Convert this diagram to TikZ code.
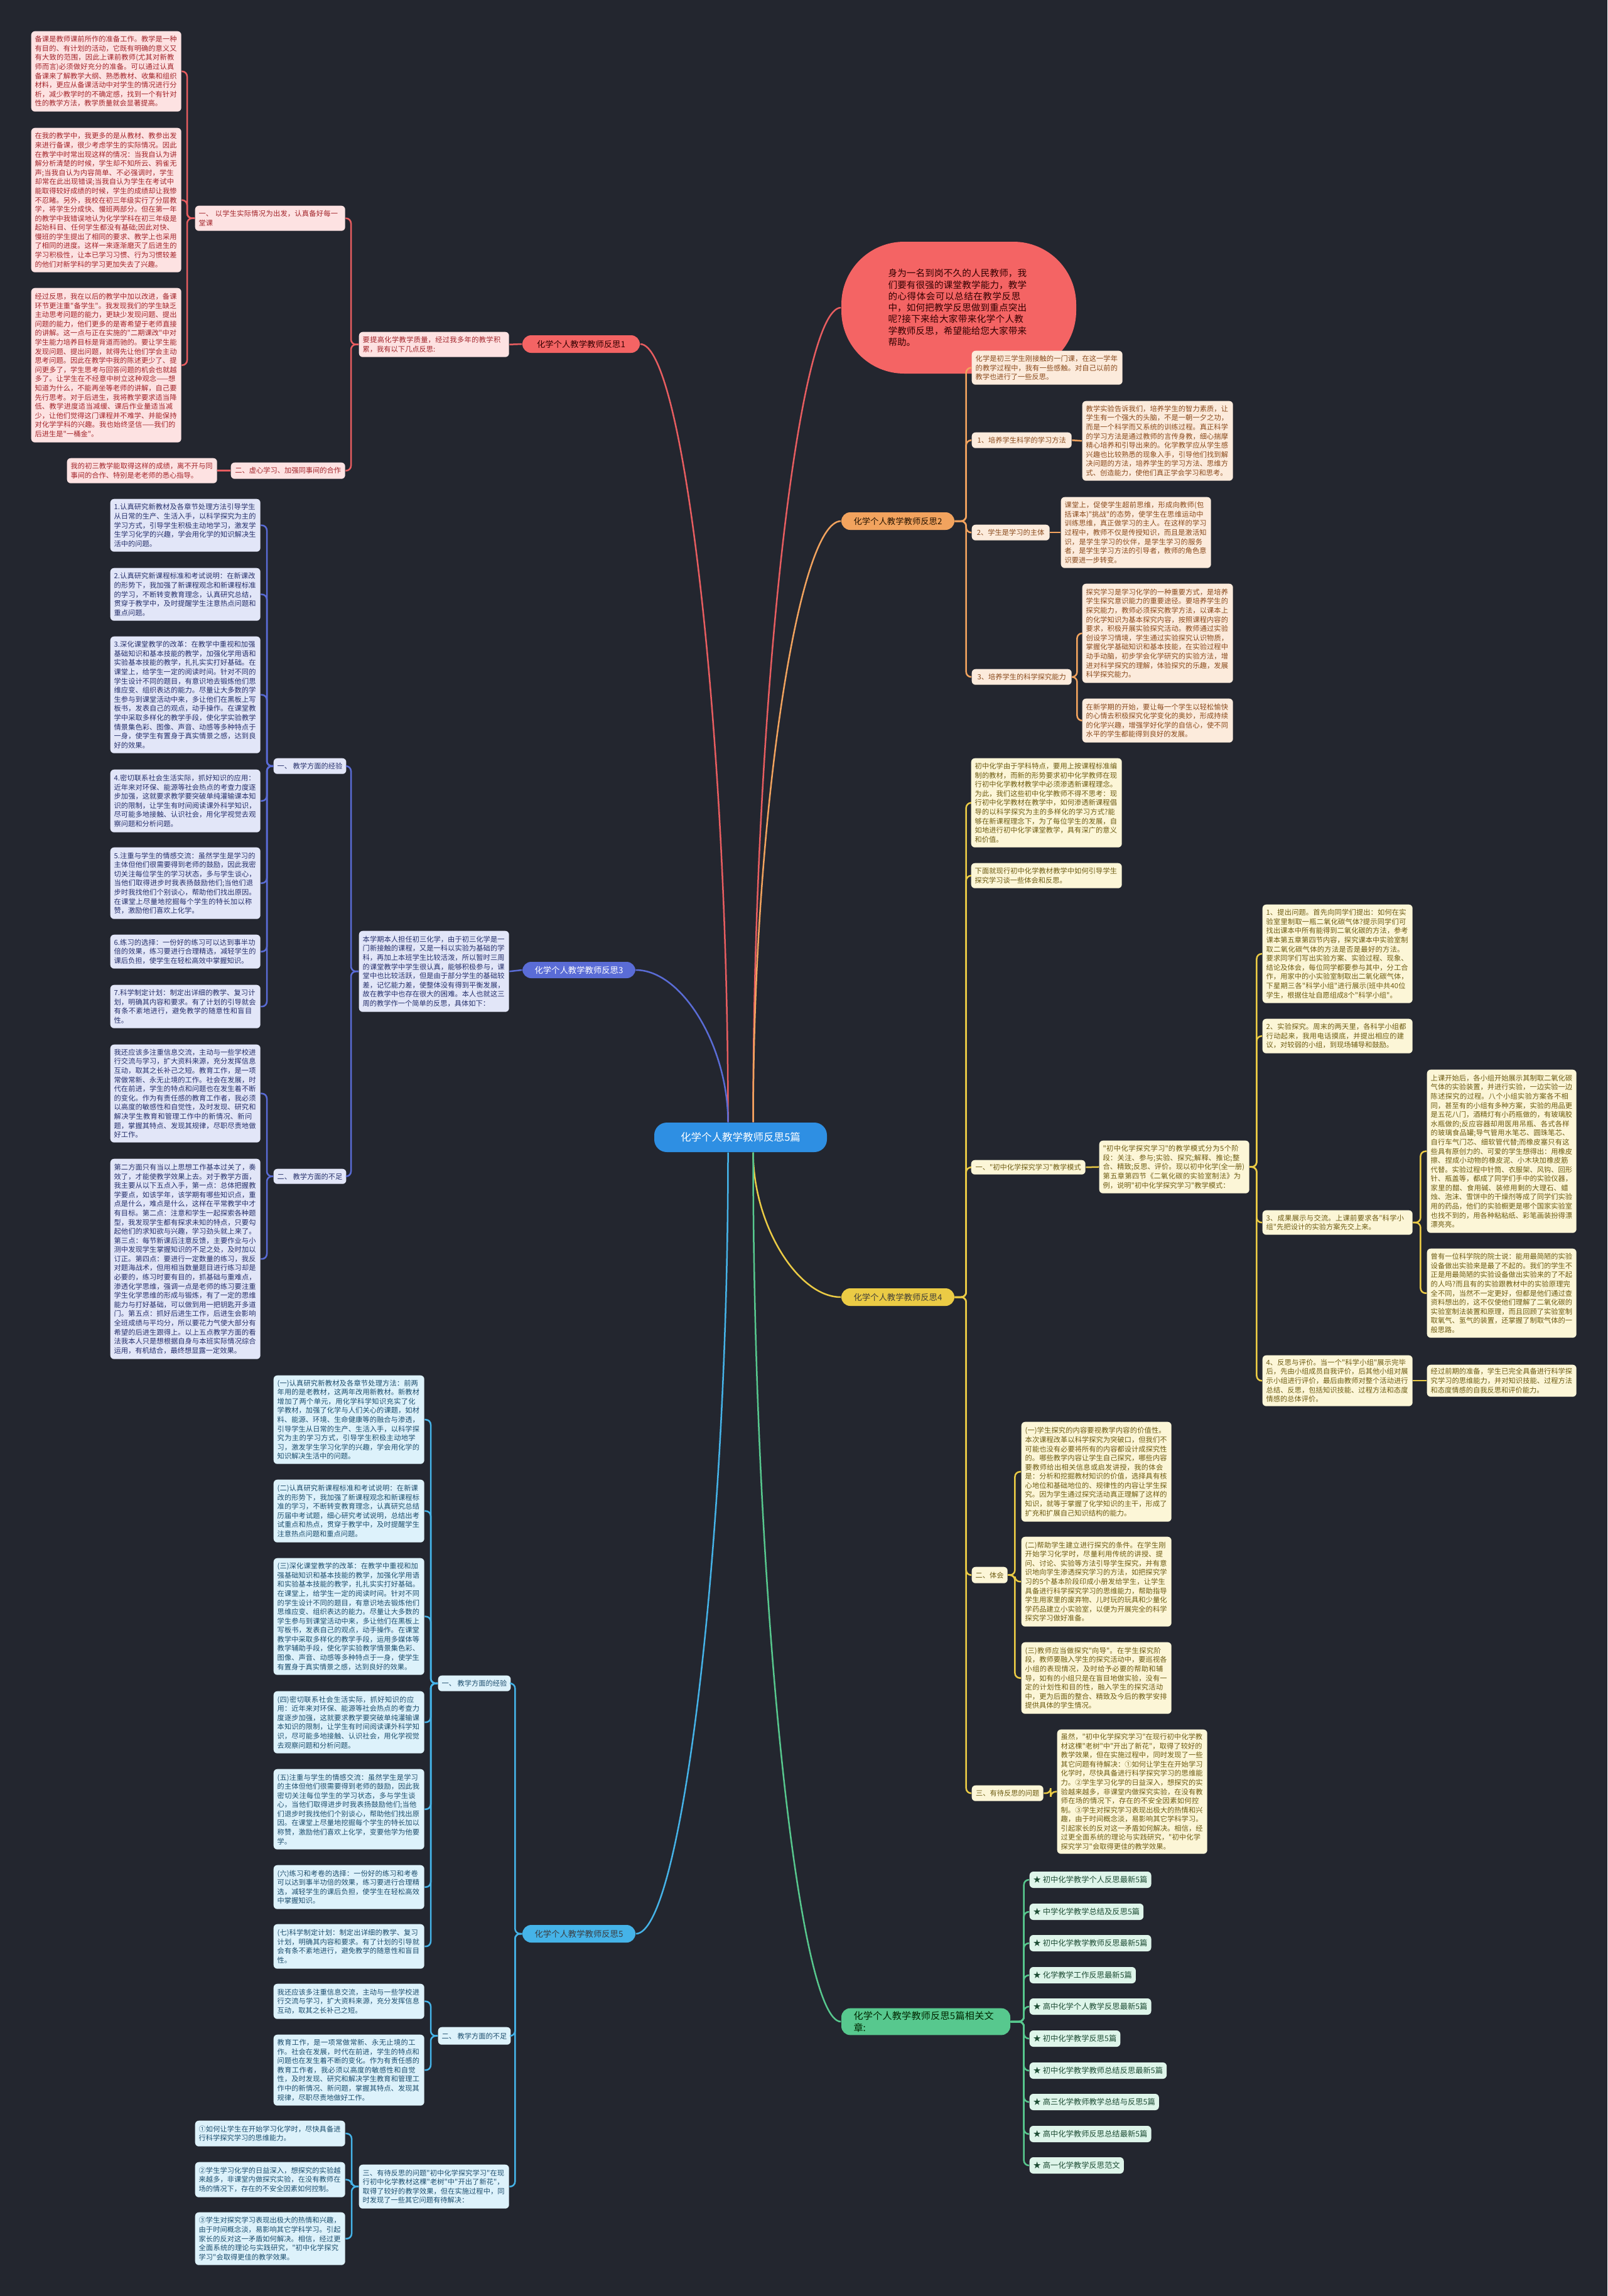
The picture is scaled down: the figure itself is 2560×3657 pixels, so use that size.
\documentclass[tikz,border=0pt]{standalone}
\usepackage{fontspec}
\newfontfamily\cjk{Noto Sans CJK SC}
\XeTeXlinebreaklocale "zh"
\XeTeXlinebreakskip=0pt plus 0.3pt

\definecolor{bgc}{HTML}{23262F}
\definecolor{rootc}{HTML}{2E8FE3}
\definecolor{redc}{HTML}{E85D60}
\definecolor{redfill}{HTML}{F46464}
\definecolor{redtext}{HTML}{A3242A}
\definecolor{pinkfill}{HTML}{FDE2E2}
\definecolor{orangec}{HTML}{F2A35E}
\definecolor{peachfill}{HTML}{FCEBDC}
\definecolor{browntext}{HTML}{8A4A1C}
\definecolor{bluec}{HTML}{5A6CD6}
\definecolor{lavfill}{HTML}{E2E6F8}
\definecolor{navytext}{HTML}{26306C}
\definecolor{yellowc}{HTML}{EBCB45}
\definecolor{creamfill}{HTML}{FCF6D7}
\definecolor{olivetext}{HTML}{6E5C12}
\definecolor{cyanc}{HTML}{45B3E8}
\definecolor{cyanfill}{HTML}{DDF2FB}
\definecolor{tealtext}{HTML}{1D4E6E}
\definecolor{greenc}{HTML}{57C88E}
\definecolor{mintfill}{HTML}{DEF5EA}
\definecolor{greentext}{HTML}{1E4D35}

% text box: name, style, x1, y1, x2, y2 (pixels), text
\newcommand{\tnode}[7]{%
  \pgfmathsetlengthmacro{\tnodew}{(#5-#3)*0.1mm-1.2mm}%
  \pgfmathsetlengthmacro{\tnodeh}{(#6-#4)*0.1mm}%
  \node[#2, anchor=north west, text width=\tnodew, minimum height=\tnodeh] (#1) at (#3,#4) {#7};}
% one-line label box
\newcommand{\lnode}[7]{%
  \pgfmathsetlengthmacro{\tnodew}{(#5-#3)*0.1mm}%
  \pgfmathsetlengthmacro{\tnodeh}{(#6-#4)*0.1mm}%
  \node[#2, anchor=north west, minimum width=\tnodew, minimum height=\tnodeh] (#1) at (#3,#4) {#7};}

\begin{document}
\begin{tikzpicture}[
  x=0.1mm, y=-0.1mm,
  every node/.style={font=\cjk},
  leaf/.style={rectangle, rounded corners=0.6mm, inner xsep=0.6mm, inner ysep=0.4mm,
               align=left, font=\cjk\fontsize{3.2}{4.15}\selectfont},
  pinkleaf/.style={leaf, fill=pinkfill, text=redtext},
  peachleaf/.style={leaf, fill=peachfill, text=browntext},
  lavleaf/.style={leaf, fill=lavfill, text=navytext},
  creamleaf/.style={leaf, fill=creamfill, text=olivetext},
  cyanleaf/.style={leaf, fill=cyanfill, text=tealtext},
  mintleaf/.style={leaf, fill=mintfill, text=greentext, font=\cjk\fontsize{3.5}{4.2}\selectfont},
  branch/.style={rectangle, rounded corners=1.4mm, inner sep=0.5mm, align=center,
                 font=\cjk\fontsize{3.8}{4.6}\selectfont},
  conn/.style={line width=0.25mm, rounded corners=0.8mm},
  redline/.style={conn, draw=redc},
  orangeline/.style={conn, draw=orangec},
  blueline/.style={conn, draw=bluec},
  yellowline/.style={conn, draw=yellowc},
  cyanline/.style={conn, draw=cyanc},
  greenline/.style={conn, draw=greenc}
]
\fill[bgc] (0,0) rectangle (2560,3657);
\useasboundingbox (0,0) rectangle (2560,3657);

\node[rectangle, rounded corners=2mm, fill=rootc, text=white, minimum width=27.5mm,
      minimum height=4.7mm, font=\cjk\fontsize{4.7}{5.5}\selectfont] (root) at (1179.5,1811.5)
      {化学个人教学教师反思5篇};

% branch labels
\node[branch, fill=redfill, text=black!80!red, minimum width=18.7mm, minimum height=2.8mm] (b1) at (925.5,548) {化学个人教学教师反思1};
\node[rectangle, rounded corners=10mm, fill=redfill, text=black!80!red, minimum width=37.4mm,
      minimum height=21mm, text width=22.5mm, align=left,
      font=\cjk\fontsize{4.15}{5.2}\selectfont] (intro) at (1527,490)
      {身为一名到岗不久的人民教师，我们要有很强的课堂教学能力，教学的心得体会可以总结在教学反思中，如何把教学反思做到重点突出呢?接下来给大家带来化学个人教学教师反思，希望能给您大家带来帮助。};
\node[branch, fill=orangec, text=black!85!orange, minimum width=18mm, minimum height=2.8mm] (b2) at (1430,830) {化学个人教学教师反思2};
\node[branch, fill=bluec, text=white, minimum width=18mm, minimum height=2.6mm] (b3) at (922,1545) {化学个人教学教师反思3};
\node[branch, fill=yellowc, text=black!85!yellow, minimum width=18mm, minimum height=2.8mm] (b4) at (1430,2066) {化学个人教学教师反思4};
\node[branch, fill=cyanc, text=black!85!cyan, minimum width=18mm, minimum height=2.8mm] (b5) at (922,3080) {化学个人教学教师反思5};
\node[branch, fill=greenc, text=black!85!green, minimum width=26.9mm, minimum height=4.2mm,
      text width=23mm, align=left, font=\cjk\fontsize{4.3}{5.3}\selectfont] (b6) at (1474.5,3220)
      {化学个人教学教师反思5篇相关文章:};

\draw[redline] ([xshift=-2mm]root.north) .. controls (1159.5,1168) and (1089,548) .. (b1.east);
\draw[redline] ([xshift=2mm]root.north) .. controls (1199.5,1139) and (1270,490) .. (intro.west);
\draw[orangeline] ([xshift=2mm]root.north) .. controls (1199.5,1309) and (1270,830) .. (b2.west);
\draw[blueline] ([xshift=-2mm]root.north) .. controls (1159.5,1666) and (1086,1545) .. (b3.east);
\draw[yellowline] ([xshift=2mm]root.south) .. controls (1199.5,1950) and (1270,2066) .. (b4.west);
\draw[cyanline] ([xshift=-2mm]root.south) .. controls (1159.5,2457) and (1086,3080) .. (b5.east);
\draw[greenline] ([xshift=2mm]root.south) .. controls (1199.5,2527) and (1270,3220) .. (b6.west);

% reflection 1
\tnode{ra}{pinkleaf}{49}{49}{288}{177}{备课是教师课前所作的准备工作。教学是一种有目的、有计划的活动，它既有明确的意义又有大致的范围，因此上课前教师(尤其对新教师而言)必须做好充分的准备。可以通过认真备课来了解教学大纲、熟悉教材、收集和组织材料，更应从备课活动中对学生的情况进行分析，减少教学时的不确定感，找到一个有针对性的教学方法，教学质量就会显著提高。}
\tnode{rb}{pinkleaf}{49}{203}{288}{433}{在我的教学中，我更多的是从教材、教参出发来进行备课，很少考虑学生的实际情况。因此在教学中时常出现这样的情况：当我自认为讲解分析清楚的时候，学生却不知所云、鸦雀无声;当我自认为内容简单、不必强调时，学生却常在此出现错误;当我自认为学生在考试中能取得较好成绩的时候，学生的成绩却让我惨不忍睹。另外，我校在初三年级实行了分层教学，将学生分成快、慢班两部分。但在第一年的教学中我错误地认为化学学科在初三年级是起始科目、任何学生都没有基础;因此对快、慢班的学生提出了相同的要求、教学上也采用了相同的进度。这样一来逐渐磨灭了后进生的学习积极性，让本已学习习惯、行为习惯较差的他们对新学科的学习更加失去了兴趣。}
\tnode{rc}{pinkleaf}{49}{458}{288}{704}{经过反思，我在以后的教学中加以改进，备课环节更注重"备学生"。我发现我们的学生缺乏主动思考问题的能力，更缺少发现问题、提出问题的能力，他们更多的是寄希望于老师直接的讲解。这一点与正在实施的"二期课改"中对学生能力培养目标是背道而驰的。要让学生能发现问题、提出问题，就得先让他们学会主动思考问题。因此在教学中我的陈述更少了、提问更多了，学生思考与回答问题的机会也就越多了。让学生在不经意中树立这种观念——想知道为什么，不能再坐等老师的讲解，自己要先行思考。对于后进生，我将教学要求适当降低、教学进度适当减缓、课后作业量适当减少，让他们觉得这门课程并不难学、并能保持对化学学科的兴趣。我也始终坚信——我们的后进生是"一桶金"。}
\tnode{rl1}{pinkleaf}{310}{327}{549}{367}{一、 以学生实际情况为出发，认真备好每一堂课}
\lnode{rl2}{pinkleaf}{367}{736}{549}{762}{二、虚心学习、加强同事间的合作}
\tnode{rl2c}{pinkleaf}{106}{729}{345}{769}{我的初三教学能取得这样的成绩，离不开与同事间的合作、特别是老老师的悉心指导。}
\tnode{rmid}{pinkleaf}{571}{528}{810}{568}{要提高化学教学质量，经过我多年的教学积累，我有以下几点反思:}

\draw[redline] (b1.west) -- (rmid.east);
\draw[redline] (rmid.west) -- ++(-12,0) |- (rl1.east);
\draw[redline] (rmid.west) -- ++(-12,0) |- (rl2.east);
\draw[redline] (rl1.west) -- ++(-12,0) |- (ra.east);
\draw[redline] (rl1.west) -- ++(-12,0) |- (rb.east);
\draw[redline] (rl1.west) -- ++(-12,0) |- (rc.east);
\draw[redline] (rl2.west) -- (rl2c.east);

% reflection 2
\tnode{ob}{peachleaf}{1547}{558}{1787}{612}{化学是初三学生刚接触的一门课，在这一学年的教学过程中，我有一些感触。对自己以前的教学也进行了一些反思。}
\lnode{os1}{peachleaf}{1547}{688}{1706}{713}{1、培养学生科学的学习方法}
\tnode{os1c}{peachleaf}{1723}{638}{1963}{765}{教学实验告诉我们，培养学生的智力素质，让学生有一个强大的头脑，不是一朝一夕之功，而是一个科学而又系统的训练过程。真正科学的学习方法是通过教师的言传身教，细心揣摩精心培养和引导出来的。化学教学应从学生感兴趣也比较熟悉的现象入手，引导他们找到解决问题的方法，培养学生的学习方法、思维方式、创造能力，使他们真正学会学习和思考。}
\lnode{os2}{peachleaf}{1547}{835}{1671}{860}{2、学生是学习的主体}
\tnode{os2c}{peachleaf}{1689}{791}{1928}{904}{课堂上，促使学生超前思维，形成向教师(包括课本)"挑战"的态势，使学生在思维运动中训练思维，真正做学习的主人。在这样的学习过程中，教师不仅是传授知识，而且是激活知识，是学生学习的伙伴，是学生学习的服务者，是学生学习方法的引导者，教师的角色意识要进一步转变。}
\lnode{os3}{peachleaf}{1547}{1065}{1706}{1090}{3、培养学生的科学探究能力}
\tnode{os3a}{peachleaf}{1723}{929}{1963}{1087}{探究学习是学习化学的一种重要方式，是培养学生探究意识能力的重要途径。要培养学生的探究能力，教师必须探究教学方法，以课本上的化学知识为基本探究内容，按照课程内容的要求，积极开展实验探究活动。教师通过实验创设学习情境，学生通过实验探究认识物质，掌握化学基础知识和基本技能，在实验过程中动手动脑，初步学会化学研究的实验方法，增进对科学探究的理解，体验探究的乐趣，发展科学探究能力。}
\tnode{os3b}{peachleaf}{1723}{1112}{1963}{1182}{在新学期的开始，要让每一个学生以轻松愉快的心情去积极探究化学变化的奥妙，形成持续的化学兴趣，增强学好化学的自信心，使不同水平的学生都能得到良好的发展。}

\draw[orangeline] (b2.east) -- ++(18,0) |- (ob.west);
\draw[orangeline] (b2.east) -- ++(18,0) |- (os1.west);
\draw[orangeline] (b2.east) -- ++(18,0) |- (os2.west);
\draw[orangeline] (b2.east) -- ++(18,0) |- (os3.west);
\draw[orangeline] (os1.east) -- (os1c.west);
\draw[orangeline] (os2.east) -- (os2c.west);
\draw[orangeline] (os3.east) -- ++(8,0) |- (os3a.west);
\draw[orangeline] (os3.east) -- ++(8,0) |- (os3b.west);

% reflection 3
\tnode{pb1}{lavleaf}{175}{794}{414}{878}{1.认真研究新教材及各章节处理方法引导学生从日常的生产、生活入手，以科学探究为主的学习方式，引导学生积极主动地学习，激发学生学习化学的兴趣，学会用化学的知识解决生活中的问题。}
\tnode{pb2}{lavleaf}{175}{904}{414}{988}{2.认真研究新课程标准和考试说明：在新课改的形势下，我加强了新课程观念和新课程标准的学习，不断转变教育理念，认真研究总结，贯穿于教学中，及时提醒学生注意热点问题和重点问题。}
\tnode{pb3}{lavleaf}{175}{1013}{414}{1199}{3.深化课堂教学的改革：在教学中重视和加强基础知识和基本技能的教学，加强化学用语和实验基本技能的教学，扎扎实实打好基础。在课堂上，给学生一定的阅读时间。针对不同的学生设计不同的题目，有意识地去锻炼他们思维应变、组织表达的能力。尽量让大多数的学生参与到课堂活动中来，多让他们在黑板上写板书，发表自己的观点，动手操作。在课堂教学中采取多样化的教学手段，使化学实验教学情景集色彩、图像、声音、动感等多种特点于一身，使学生有置身于真实情景之感，达到良好的效果。}
\tnode{pb4}{lavleaf}{175}{1225}{414}{1325}{4.密切联系社会生活实际，抓好知识的应用：近年来对环保、能源等社会热点的考查力度逐步加强，这就要求教学要突破单纯灌输课本知识的限制，让学生有时间阅读课外科学知识，尽可能多地接触、认识社会，用化学视觉去观察问题和分析问题。}
\tnode{pb5}{lavleaf}{175}{1349}{414}{1463}{5.注重与学生的情感交流：虽然学生是学习的主体但他们很需要得到老师的鼓励，因此我密切关注每位学生的学习状态，多与学生谈心，当他们取得进步时我表扬鼓励他们;当他们退步时我找他们个别谈心，帮助他们找出原因。在课堂上尽量地挖掘每个学生的特长加以称赞，激励他们喜欢上化学。}
\tnode{pb6}{lavleaf}{175}{1488}{414}{1542}{6.练习的选择：一份好的练习可以达到事半功倍的效果，练习要进行合理精选，减轻学生的课后负担，使学生在轻松高效中掌握知识。}
\tnode{pb7}{lavleaf}{175}{1568}{414}{1637}{7.科学制定计划：制定出详细的教学、复习计划，明确其内容和要求。有了计划的引导就会有条不紊地进行，避免教学的随意性和盲目性。}
\tnode{pb8}{lavleaf}{175}{1663}{414}{1819}{我还应该多注重信息交流，主动与一些学校进行交流与学习，扩大资料来源，充分发挥信息互动，取其之长补己之短。教育工作，是一项常做常新、永无止境的工作。社会在发展，时代在前进，学生的特点和问题也在发生着不断的变化。作为有责任感的教育工作者，我必须以高度的敏感性和自觉性，及时发现、研究和解决学生教育和管理工作中的新情况、新问题，掌握其特点、发现其规律，尽职尽责地做好工作。}
\tnode{pb9}{lavleaf}{175}{1845}{414}{2164}{第二方面只有当以上思想工作基本过关了，奏效了，才能使教学效果上去。对于教学方面，我主要从以下五点入手，第一点：总体把握教学要点，如该学年，该学期有哪些知识点，重点是什么，难点是什么，这样在平常教学中才有目标。第二点：注意和学生一起探索各种题型，我发现学生都有探求未知的特点，只要勾起他们的求知欲与兴趣，学习劲头就上来了。第三点：每节新课后注意反馈，主要作业与小测中发现学生掌握知识的不足之处，及时加以订正。第四点：要进行一定数量的练习，我反对题海战术，但用相当数量题目进行练习却是必要的，练习时要有目的，抓基础与重难点，渗透化学思维，强调一点是老师的练习要注重学生化学思维的形成与锻炼，有了一定的思维能力与打好基础，可以做到用一把钥匙开多道门。第五点：抓好后进生工作，后进生会影响全班成绩与平均分，所以要花力气使大部分有希望的后进生跟得上。以上五点教学方面的看法我本人只是想根据自身与本班实际情况综合运用，有机结合，最终想显露一定效果。}
\lnode{pl1}{lavleaf}{435}{1207}{549}{1232}{一、 教学方面的经验}
\lnode{pl2}{lavleaf}{435}{1861}{549}{1885}{二、 教学方面的不足}
\tnode{pc}{lavleaf}{571}{1482}{810}{1611}{本学期本人担任初三化学，由于初三化学是一门新接触的课程，又是一科以实验为基础的学科，再加上本班学生比较活泼，所以暂时三周的课堂教学中学生很认真，能够积极参与，课堂中也比较活跃，但是由于部分学生的基础较差，记忆能力差，使整体没有得到平衡发展，故在教学中也存在很大的困难。本人也就这三周的教学作一个简单的反思，具体如下：}

\draw[blueline] (b3.west) -- (pc.east);
\draw[blueline] (pc.west) -- ++(-12,0) |- (pl1.east);
\draw[blueline] (pc.west) -- ++(-12,0) |- (pl2.east);
\draw[blueline] (pl1.west) -- ++(-10,0) |- (pb1.east);
\draw[blueline] (pl1.west) -- ++(-10,0) |- (pb2.east);
\draw[blueline] (pl1.west) -- ++(-10,0) |- (pb3.east);
\draw[blueline] (pl1.west) -- ++(-10,0) |- (pb4.east);
\draw[blueline] (pl1.west) -- ++(-10,0) |- (pb5.east);
\draw[blueline] (pl1.west) -- ++(-10,0) |- (pb6.east);
\draw[blueline] (pl1.west) -- ++(-10,0) |- (pb7.east);
\draw[blueline] (pl2.west) -- ++(-10,0) |- (pb8.east);
\draw[blueline] (pl2.west) -- ++(-10,0) |- (pb9.east);

% reflection 4
\tnode{qa}{creamleaf}{1546}{1207}{1786}{1349}{初中化学由于学科特点，要用上按课程标准编制的教材，而新的形势要求初中化学教师在现行初中化学教材教学中必须渗透新课程理念。为此，我们这些初中化学教师不得不思考：现行初中化学教材在教学中，如何渗透新课程倡导的以科学探究为主的多样化的学习方式?能够在新课程理念下，为了每位学生的发展，自如地进行初中化学课堂教学，具有深广的意义和价值。}
\tnode{qb}{creamleaf}{1546}{1374}{1786}{1414}{下面就现行初中化学教材教学中如何引导学生探究学习谈一些体会和反思。}
\lnode{ql1}{creamleaf}{1546}{1847}{1728}{1870}{一、"初中化学探究学习"教学模式}
\tnode{qm}{creamleaf}{1750}{1816}{1989}{1900}{"初中化学探究学习"的教学模式分为5个阶段：关注、参与;实验、探究;解释、推论;整合、精致;反思、评价。现以初中化学(全一册)第五章第四节《二氧化碳的实验室制法》为例，说明"初中化学探究学习"教学模式：}
\tnode{qs1}{creamleaf}{2010}{1440}{2249}{1597}{1、提出问题。首先向同学们提出：如何在实验室里制取一瓶二氧化碳气体?提示同学们可找出课本中所有能得到二氧化碳的方法，参考课本第五章第四节内容，探究课本中实验室制取二氧化碳气体的方法是否是最好的方法。要求同学们写出实验方案、实验过程、现象、结论及体会，每位同学都要参与其中，分工合作，用家中的小实验室制取出二氧化碳气体，下星期三各"科学小组"进行展示(班中共40位学生，根据住址自愿组成8个"科学小组"。}
\tnode{qs2}{creamleaf}{2010}{1622}{2249}{1677}{2、实验探究。周末的两天里，各科学小组都行动起来，我用电话摸底，并提出相应的建议，对较弱的小组，到现场辅导和鼓励。}
\tnode{qs3}{creamleaf}{2010}{1927}{2249}{1966}{3、成果展示与交流。上课前要求各"科学小组"先把设计的实验方案先交上来。}
\tnode{qs3a}{creamleaf}{2272}{1703}{2510}{1963}{上课开始后，各小组开始展示其制取二氧化碳气体的实验装置，并进行实验，一边实验一边陈述探究的过程。八个小组实验方案各不相同，甚至有的小组有多种方案，实验的用品更是五花八门，酒精灯有小药瓶做的，有玻璃胶水瓶做的;反应容器却用医用吊瓶、各式各样的玻璃食品罐;导气管用水笔芯、圆珠笔芯、自行车气门芯、细软管代替;而橡皮塞只有这些具有原创力的、可爱的学生想得出：用橡皮擦、捏成小动物的橡皮泥、小木块加橡皮筋代替。实验过程中针筒、衣服架、风钩、回形针、瓶盖等，都成了同学们手中的实验仪器，家里的醋、食用碱、装修用剩的大理石、蜡烛、泡沫、雪饼中的干燥剂等成了同学们实验用的药品，他们的实验橱更是哪个国家实验室也找不到的，用各种粘粘纸、彩笔画装扮得漂漂亮亮。}
\tnode{qs3b}{creamleaf}{2272}{1988}{2510}{2130}{曾有一位科学院的院士说：能用最简陋的实验设备做出实验来是最了不起的。我们的学生不正是用最简陋的实验设备做出实验来的了不起的人吗?而且有的实验跟教材中的实验原理完全不同，当然不一定更好，但都是他们通过查资料想出的，这不仅使他们理解了二氧化碳的实验室制法装置和原理，而且回顾了实验室制取氧气、氢气的装置，还掌握了制取气体的一般思路。}
\tnode{qs4}{creamleaf}{2010}{2158}{2249}{2239}{4、反思与评价。当一个"科学小组"展示完毕后，先由小组成员自我评价，后其他小组对展示小组进行评价，最后由教师对整个活动进行总结、反思，包括知识技能、过程方法和态度情感的总体评价。}
\tnode{qs4a}{creamleaf}{2272}{2173}{2510}{2224}{经过前期的准备，学生已完全具备进行科学探究学习的思维能力，并对知识技能、过程方法和态度情感的自我反思和评价能力。}
\lnode{ql2}{creamleaf}{1547}{2495}{1604}{2521}{二、体会}
\tnode{qt1}{creamleaf}{1626}{2264}{1865}{2423}{(一)学生探究的内容要视教学内容的价值性。本次课程改革以科学探究为突破口，但我们不可能也没有必要将所有的内容都设计成探究性的。哪些教学内容让学生自己探究，哪些内容要教师给出相关信息或启发讲授，我的体会是：分析和挖掘教材知识的价值，选择具有核心地位和基础地位的、规律性的内容让学生探究。因为学生通过探究活动真正理解了这样的知识，就等于掌握了化学知识的主干，形成了扩充和扩展自己知识结构的能力。}
\tnode{qt2}{creamleaf}{1626}{2447}{1865}{2590}{(二)帮助学生建立进行探究的条件。在学生刚开始学习化学时，尽量利用传统的讲授、提问、讨论、实验等方法引导学生探究，并有意识地向学生渗透探究学习的方法，如把探究学习的5个基本阶段印成小册发给学生，让学生具备进行科学探究学习的思维能力，帮助指导学生用家里的废弃物、儿时玩的玩具和少量化学药品建立小实验室，以便为开展完全的科学探究学习做好准备。}
\tnode{qt3}{creamleaf}{1626}{2615}{1865}{2729}{(三)教师应当做探究"向导"。在学生探究阶段，教师要融入学生的探究活动中，要巡视各小组的表现情况，及时给予必要的帮助和辅导，如有的小组只是在盲目地做实验，没有一定的计划性和目的性，融入学生的探究活动中，更为后面的整合、精致及今后的教学安排提供具体的学生情况。}
\lnode{ql3}{creamleaf}{1547}{2843}{1661}{2868}{三、有待反思的问题}
\tnode{ql3c}{creamleaf}{1683}{2754}{1922}{2952}{虽然，"初中化学探究学习"在现行初中化学教材这棵"老树"中"开出了新花"，取得了较好的教学效果，但在实施过程中，同时发现了一些其它问题有待解决：①如何让学生在开始学习化学时，尽快具备进行科学探究学习的思维能力。②学生学习化学的日益深入，想探究的实验越来越多，非课堂内做探究实验，在没有教师在场的情况下，存在的不安全因素如何控制。③学生对探究学习表现出极大的热情和兴趣，由于时间概念淡，易影响其它学科学习。引起家长的反对这一矛盾如何解决。相信，经过更全面系统的理论与实践研究，"初中化学探究学习"会取得更佳的教学效果。}

\draw[yellowline] (b4.east) -- ++(18,0) |- (qa.west);
\draw[yellowline] (b4.east) -- ++(18,0) |- (qb.west);
\draw[yellowline] (b4.east) -- ++(18,0) |- (ql1.west);
\draw[yellowline] (b4.east) -- ++(18,0) |- (ql2.west);
\draw[yellowline] (b4.east) -- ++(18,0) |- (ql3.west);
\draw[yellowline] (ql1.east) -- (qm.west);
\draw[yellowline] (qm.east) -- ++(11,0) |- (qs1.west);
\draw[yellowline] (qm.east) -- ++(11,0) |- (qs2.west);
\draw[yellowline] (qm.east) -- ++(11,0) |- (qs3.west);
\draw[yellowline] (qm.east) -- ++(11,0) |- (qs4.west);
\draw[yellowline] (qs3.east) -- ++(12,0) |- (qs3a.west);
\draw[yellowline] (qs3.east) -- ++(12,0) |- (qs3b.west);
\draw[yellowline] (qs4.east) -- (qs4a.west);
\draw[yellowline] (ql2.east) -- ++(11,0) |- (qt1.west);
\draw[yellowline] (ql2.east) -- ++(11,0) |- (qt2.west);
\draw[yellowline] (ql2.east) -- ++(11,0) |- (qt3.west);
\draw[yellowline] (ql3.east) -- ++(11,0) |- (ql3c.west);

% reflection 5
\tnode{sc1}{cyanleaf}{435}{2190}{675}{2331}{(一)认真研究新教材及各章节处理方法：前两年用的是老教材，这两年改用新教材。新教材增加了两个单元，用化学科学知识充实了化学教材，加强了化学与人们关心的课题，如材料、能源、环境、生命健康等的融合与渗透，引导学生从日常的生产、生活入手，以科学探究为主的学习方式，引导学生积极主动地学习，激发学生学习化学的兴趣，学会用化学的知识解决生活中的问题。}
\tnode{sc2}{cyanleaf}{435}{2356}{675}{2456}{(二)认真研究新课程标准和考试说明：在新课改的形势下，我加强了新课程观念和新课程标准的学习，不断转变教育理念，认真研究总结历届中考试题，细心研究考试说明，总结出考试重点和热点，贯穿于教学中，及时提醒学生注意热点问题和重点问题。}
\tnode{sc3}{cyanleaf}{435}{2481}{675}{2667}{(三)深化课堂教学的改革：在教学中重视和加强基础知识和基本技能的教学，加强化学用语和实验基本技能的教学，扎扎实实打好基础。在课堂上，给学生一定的阅读时间。针对不同的学生设计不同的题目，有意识地去锻炼他们思维应变、组织表达的能力。尽量让大多数的学生参与到课堂活动中来，多让他们在黑板上写板书，发表自己的观点，动手操作。在课堂教学中采取多样化的教学手段，运用多媒体等教学辅助手段，使化学实验教学情景集色彩、图像、声音、动感等多种特点于一身，使学生有置身于真实情景之感，达到良好的效果。}
\tnode{sc4}{cyanleaf}{435}{2693}{675}{2792}{(四)密切联系社会生活实际，抓好知识的应用：近年来对环保、能源等社会热点的考查力度逐步加强，这就要求教学要突破单纯灌输课本知识的限制，让学生有时间阅读课外科学知识，尽可能多地接触、认识社会，用化学视觉去观察问题和分析问题。}
\tnode{sc5}{cyanleaf}{435}{2817}{675}{2945}{(五)注重与学生的情感交流：虽然学生是学习的主体但他们很需要得到老师的鼓励，因此我密切关注每位学生的学习状态，多与学生谈心，当他们取得进步时我表扬鼓励他们;当他们退步时我找他们个别谈心，帮助他们找出原因。在课堂上尽量地挖掘每个学生的特长加以称赞，激励他们喜欢上化学，变要他学为他要学。}
\tnode{sc6}{cyanleaf}{435}{2970}{675}{3040}{(六)练习和考卷的选择：一份好的练习和考卷可以达到事半功倍的效果，练习要进行合理精选，减轻学生的课后负担，使学生在轻松高效中掌握知识。}
\tnode{sc7}{cyanleaf}{435}{3064}{675}{3135}{(七)科学制定计划：制定出详细的教学、复习计划，明确其内容和要求。有了计划的引导就会有条不紊地进行，避免教学的随意性和盲目性。}
\tnode{sc8}{cyanleaf}{435}{3159}{675}{3215}{我还应该多注重信息交流，主动与一些学校进行交流与学习，扩大资料来源，充分发挥信息互动，取其之长补己之短。}
\tnode{sc9}{cyanleaf}{435}{3240}{675}{3353}{教育工作，是一项常做常新、永无止境的工作。社会在发展，时代在前进，学生的特点和问题也在发生着不断的变化。作为有责任感的教育工作者，我必须以高度的敏感性和自觉性，及时发现、研究和解决学生教育和管理工作中的新情况、新问题，掌握其特点、发现其规律，尽职尽责地做好工作。}
\lnode{sl1}{cyanleaf}{697}{2668}{810}{2693}{一、 教学方面的经验}
\lnode{sl2}{cyanleaf}{697}{3228}{810}{3256}{二、 教学方面的不足}
\tnode{sl3}{cyanleaf}{571}{3447}{810}{3517}{三、有待反思的问题"初中化学探究学习"在现行初中化学教材这棵"老树"中"开出了新花"，取得了较好的教学效果，但在实施过程中，同时发现了一些其它问题有待解决：}
\tnode{sd1}{cyanleaf}{310}{3377}{549}{3418}{①如何让学生在开始学习化学时，尽快具备进行科学探究学习的思维能力。}
\tnode{sd2}{cyanleaf}{310}{3443}{549}{3499}{②学生学习化学的日益深入，想探究的实验越来越多，非课堂内做探究实验，在没有教师在场的情况下，存在的不安全因素如何控制。}
\tnode{sd3}{cyanleaf}{310}{3523}{549}{3607}{③学生对探究学习表现出极大的热情和兴趣，由于时间概念淡，易影响其它学科学习。引起家长的反对这一矛盾如何解决。相信，经过更全面系统的理论与实践研究，"初中化学探究学习"会取得更佳的教学效果。}

\draw[cyanline] (b5.west) -- ++(-11,0) |- (sl1.east);
\draw[cyanline] (b5.west) -- ++(-11,0) |- (sl2.east);
\draw[cyanline] (b5.west) -- ++(-11,0) |- (sl3.east);
\draw[cyanline] (sl1.west) -- ++(-11,0) |- (sc1.east);
\draw[cyanline] (sl1.west) -- ++(-11,0) |- (sc2.east);
\draw[cyanline] (sl1.west) -- ++(-11,0) |- (sc3.east);
\draw[cyanline] (sl1.west) -- ++(-11,0) |- (sc4.east);
\draw[cyanline] (sl1.west) -- ++(-11,0) |- (sc5.east);
\draw[cyanline] (sl1.west) -- ++(-11,0) |- (sc6.east);
\draw[cyanline] (sl1.west) -- ++(-11,0) |- (sc7.east);
\draw[cyanline] (sl2.west) -- ++(-11,0) |- (sc8.east);
\draw[cyanline] (sl2.west) -- ++(-11,0) |- (sc9.east);
\draw[cyanline] (sl3.west) -- ++(-11,0) |- (sd1.east);
\draw[cyanline] (sl3.west) -- ++(-11,0) |- (sd2.east);
\draw[cyanline] (sl3.west) -- ++(-11,0) |- (sd3.east);

% related articles
\node[mintleaf, anchor=west, minimum height=2.6mm] (r1) at (1639,2994) {★ 初中化学教学个人反思最新5篇};
\node[mintleaf, anchor=west, minimum height=2.6mm] (r2) at (1639,3045) {★ 中学化学教学总结及反思5篇};
\node[mintleaf, anchor=west, minimum height=2.6mm] (r3) at (1639,3095) {★ 初中化学教学教师反思最新5篇};
\node[mintleaf, anchor=west, minimum height=2.6mm] (r4) at (1639,3146) {★ 化学教学工作反思最新5篇};
\node[mintleaf, anchor=west, minimum height=2.6mm] (r5) at (1639,3196) {★ 高中化学个人教学反思最新5篇};
\node[mintleaf, anchor=west, minimum height=2.6mm] (r6) at (1639,3247) {★ 初中化学教学反思5篇};
\node[mintleaf, anchor=west, minimum height=2.6mm] (r7) at (1639,3298) {★ 初中化学教学教师总结反思最新5篇};
\node[mintleaf, anchor=west, minimum height=2.6mm] (r8) at (1639,3348) {★ 高三化学教师教学总结与反思5篇};
\node[mintleaf, anchor=west, minimum height=2.6mm] (r9) at (1639,3399) {★ 高中化学教师反思总结最新5篇};
\node[mintleaf, anchor=west, minimum height=2.6mm] (r10) at (1639,3449) {★ 高一化学教学反思范文};

\draw[greenline] (b6.east) -- ++(21,0) |- (r1.west);
\draw[greenline] (b6.east) -- ++(21,0) |- (r2.west);
\draw[greenline] (b6.east) -- ++(21,0) |- (r3.west);
\draw[greenline] (b6.east) -- ++(21,0) |- (r4.west);
\draw[greenline] (b6.east) -- ++(21,0) |- (r5.west);
\draw[greenline] (b6.east) -- ++(21,0) |- (r6.west);
\draw[greenline] (b6.east) -- ++(21,0) |- (r7.west);
\draw[greenline] (b6.east) -- ++(21,0) |- (r8.west);
\draw[greenline] (b6.east) -- ++(21,0) |- (r9.west);
\draw[greenline] (b6.east) -- ++(21,0) |- (r10.west);
\end{tikzpicture}
\end{document}
